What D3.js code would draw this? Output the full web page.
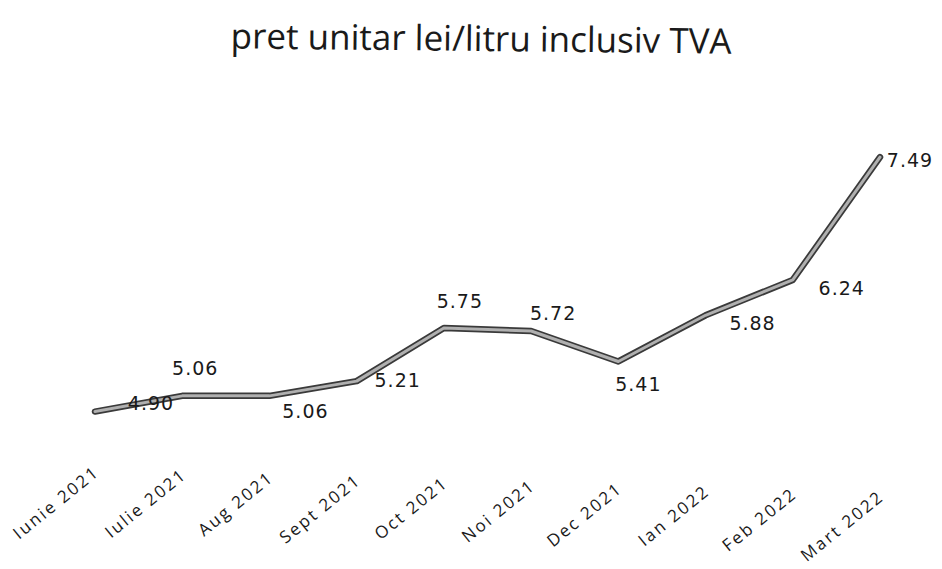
<!DOCTYPE html>
<html>
<head>
<meta charset="utf-8">
<script src="https://cdn.jsdelivr.net/npm/d3@7/dist/d3.min.js"></script>
<style>
  html, body { margin: 0; padding: 0; background: #fff; }
  svg { display: block; }
</style>
</head>
<body>
<svg id="chart" width="942" height="569"></svg>
<script>
// ---- data ----
const title = "pret unitar lei/litru inclusiv TVA";
const categories = ["Iunie 2021", "Iulie 2021", "Aug 2021", "Sept 2021", "Oct 2021",
                    "Noi 2021", "Dec 2021", "Ian 2022", "Feb 2022", "Mart 2022"];
const prices = [4.90, 5.06, 5.06, 5.21, 5.75, 5.72, 5.41, 5.88, 6.24, 7.49];

// ---- label placement (style only: offsets of value labels from their point) ----
const labelDx = [56, 13, 36, 41, 16, 22, 20, 47, 49, 30];
const labelDy = [-2, -21, 22, 6, -20, -11, 30, 15, 15, 10];

const svg = d3.select("#chart");

const x = d3.scalePoint().domain(categories).range([95, 880]);
const y = d3.scaleLinear().domain([4, 8]).range([500, 107]);

// title
svg.append("text")
  .attr("x", 481).attr("y", 51)
  .attr("text-anchor", "middle")
  .attr("font-family", "Open Sans, sans-serif")
  .attr("font-size", 35)
  .attr("fill", "#1a1a1a")
  .attr("transform", "rotate(0.6, 481, 51)")
  .text(title);

// line
const line = d3.line()
  .x((d, i) => x(categories[i]))
  .y(d => y(d));

svg.append("path").datum(prices)
  .attr("d", line)
  .attr("fill", "none")
  .attr("stroke", "#3a3a3a")
  .attr("stroke-width", 6.5)
  .attr("stroke-linejoin", "round")
  .attr("stroke-linecap", "round");
svg.append("path").datum(prices)
  .attr("d", line)
  .attr("fill", "none")
  .attr("stroke", "#b0b0b0")
  .attr("stroke-width", 3)
  .attr("stroke-linejoin", "round")
  .attr("stroke-linecap", "round");

// value labels
svg.append("g").selectAll("text")
  .data(prices)
  .join("text")
  .attr("x", (d, i) => x(categories[i]) + labelDx[i])
  .attr("y", (d, i) => y(d) + labelDy[i])
  .attr("text-anchor", "middle")
  .attr("font-family", "DejaVu Sans, sans-serif")
  .attr("font-size", 19)
  .attr("letter-spacing", 1)
  .attr("fill", "#1a1a1a")
  .text(d => d.toFixed(2));

// x axis (labels only, rotated)
const xAxis = d3.axisBottom(x).tickSize(0).tickPadding(0);
const gx = svg.append("g")
  .attr("transform", "translate(0,474) rotate(1.8, 100, 0)")
  .call(xAxis);
gx.select(".domain").remove();
gx.selectAll(".tick text")
  .attr("font-family", "Open Sans, sans-serif")
  .attr("font-size", 17)
  .attr("letter-spacing", 2.2)
  .attr("fill", "#1a1a1a")
  .attr("text-anchor", "end")
  .attr("dy", 0)
  .attr("y", 0)
  .attr("x", 0)
  .attr("transform", "translate(5,0) rotate(-40.8)");
</script>
</body>
</html>
